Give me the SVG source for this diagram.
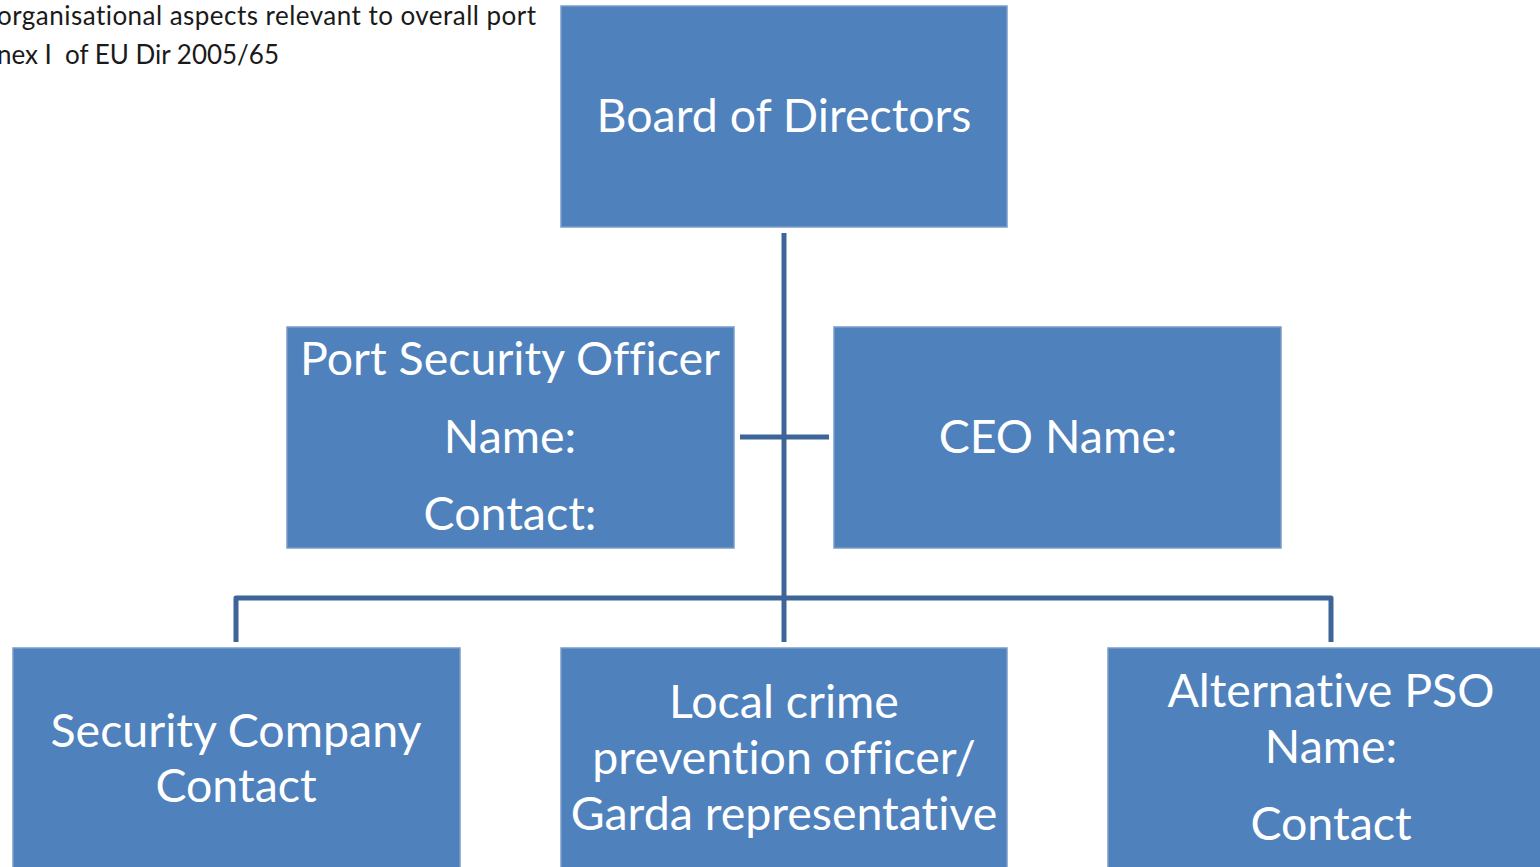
<svg xmlns="http://www.w3.org/2000/svg" width="1540" height="867" viewBox="0 0 1540 867">
  <style>
    .box { fill: #4F81BD; stroke: #7A9CC8; stroke-width: 1.5; }
    .lbl { fill: #ffffff; font-family: Lato, "Open Sans", sans-serif; font-size: 46.5px; text-anchor: middle; font-variant-ligatures: none; }
    .note { fill: #1a1a1a; font-family: Lato, "Open Sans", sans-serif; font-size: 26px; font-variant-ligatures: none; white-space: pre; }
    .conn { fill: none; stroke: #3E6597; stroke-width: 5; stroke-linejoin: round; }
  </style>
  <rect width="1540" height="867" fill="#ffffff"/>

  <!-- heading note, running off the left edge -->
  <text class="note" x="-3" y="25" textLength="539" lengthAdjust="spacing">organisational aspects relevant to overall port</text>
  <text class="note" x="-3" y="64" textLength="282" lengthAdjust="spacing" xml:space="preserve">nex I  of EU Dir 2005/65</text>

  <!-- connectors -->
  <g id="connectors">
    <line class="conn" x1="784" y1="233" x2="784" y2="642"/>
    <line class="conn" x1="740" y1="437" x2="829" y2="437"/>
    <path class="conn" d="M236 642 V598 H1331 V642"/>
  </g>

  <g id="board">
    <rect class="box" x="561" y="6" width="446" height="221"/>
    <text class="lbl" x="784" y="132">Board of Directors</text>
  </g>

  <g id="pso">
    <rect class="box" x="287" y="327" width="447" height="221"/>
    <text class="lbl" x="510" y="375">Port Security Officer</text>
    <text class="lbl" x="510" y="453">Name:</text>
    <text class="lbl" x="510" y="530">Contact:</text>
  </g>

  <g id="ceo">
    <rect class="box" x="834" y="327" width="447" height="221"/>
    <text class="lbl" x="1058" y="453">CEO Name:</text>
  </g>

  <g id="security-company">
    <rect class="box" x="13" y="648" width="447" height="230"/>
    <text class="lbl" x="236" y="747">Security Company</text>
    <text class="lbl" x="236" y="802">Contact</text>
  </g>

  <g id="crime-prevention">
    <rect class="box" x="561" y="648" width="446" height="230"/>
    <text class="lbl" x="784" y="718">Local crime</text>
    <text class="lbl" x="784" y="774">prevention officer/</text>
    <text class="lbl" x="784" y="830">Garda representative</text>
  </g>

  <g id="alt-pso">
    <rect class="box" x="1108" y="648" width="447" height="230"/>
    <text class="lbl" x="1331" y="707">Alternative PSO</text>
    <text class="lbl" x="1331" y="763">Name:</text>
    <text class="lbl" x="1331" y="840">Contact</text>
  </g>
</svg>
